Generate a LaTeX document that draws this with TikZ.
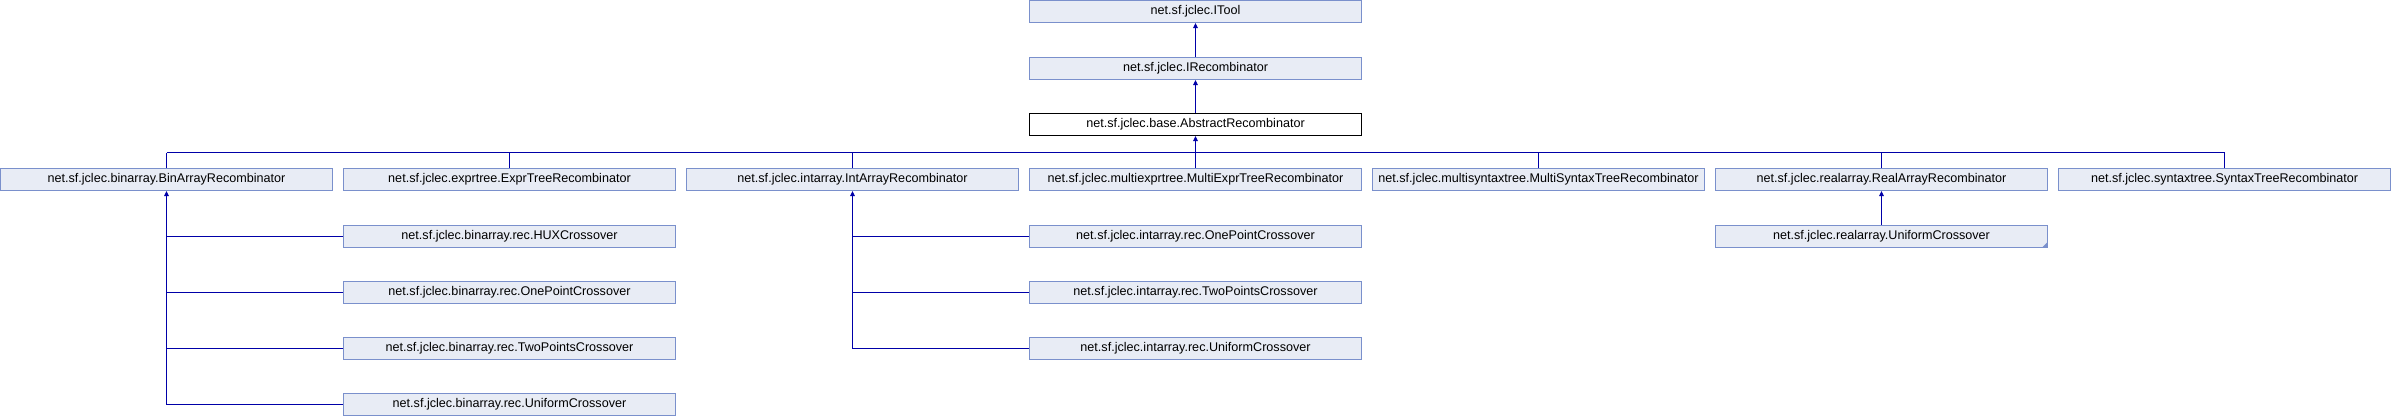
\documentclass[tikz,border=0pt]{standalone}
\usepackage{fontspec}
\setmainfont{Liberation Sans}
\usetikzlibrary{arrows.meta}
\definecolor{boxfill}{HTML}{E8ECF5}
\definecolor{boxdraw}{HTML}{7A90CC}
\definecolor{edgecol}{HTML}{0000A8}
\begin{document}
\begin{tikzpicture}[x=1pt,y=-1pt,
  cls/.style={draw=boxdraw,fill=boxfill,line width=1pt,minimum width=332pt,minimum height=22pt,inner sep=0pt,font=\fontsize{12.6}{14}\selectfont},
  mainbox/.style={cls,draw=black,fill=white},
  line/.style={draw=edgecol,line width=1pt},
  edge/.style={line,-{Triangle[length=5pt,width=4.5pt]}}]
\useasboundingbox (0,0) rectangle (2391,416);
\coordinate (bus) at (0,152.5);
% top chain
\node[cls] (itool) at (1195.5,11.5) {net.sf.jclec.ITool};
\node[cls] (irec) at (1195.5,68.5) {net.sf.jclec.IRecombinator};
\node[mainbox] (abs) at (1195.5,124.5) {net.sf.jclec.base.AbstractRecombinator};
% row 3
\node[cls] (bin) at (166.5,179.5) {net.sf.jclec.binarray.BinArrayRecombinator};
\node[cls] (expr) at (509.5,179.5) {net.sf.jclec.exprtree.ExprTreeRecombinator};
\node[cls] (int) at (852.5,179.5) {net.sf.jclec.intarray.IntArrayRecombinator};
\node[cls] (mexpr) at (1195.5,179.5) {net.sf.jclec.multiexprtree.MultiExprTreeRecombinator};
\node[cls] (msyn) at (1538.5,179.5) {net.sf.jclec.multisyntaxtree.MultiSyntaxTreeRecombinator};
\node[cls] (real) at (1881.5,179.5) {net.sf.jclec.realarray.RealArrayRecombinator};
\node[cls] (syn) at (2224.5,179.5) {net.sf.jclec.syntaxtree.SyntaxTreeRecombinator};
% binarray children
\node[cls] (bhux) at (509.5,236.5) {net.sf.jclec.binarray.rec.HUXCrossover};
\node[cls] (bone) at (509.5,292.5) {net.sf.jclec.binarray.rec.OnePointCrossover};
\node[cls] (btwo) at (509.5,348.5) {net.sf.jclec.binarray.rec.TwoPointsCrossover};
\node[cls] (buni) at (509.5,404.5) {net.sf.jclec.binarray.rec.UniformCrossover};
% intarray children
\node[cls] (ione) at (1195.5,236.5) {net.sf.jclec.intarray.rec.OnePointCrossover};
\node[cls] (itwo) at (1195.5,292.5) {net.sf.jclec.intarray.rec.TwoPointsCrossover};
\node[cls] (iuni) at (1195.5,348.5) {net.sf.jclec.intarray.rec.UniformCrossover};
% realarray child
\node[cls] (runi) at (1881.5,236.5) {net.sf.jclec.realarray.UniformCrossover};
\fill[boxdraw] ([xshift=-6pt,yshift=0.5pt]runi.south east) -- ([xshift=-0.5pt,yshift=0.5pt]runi.south east) -- ([xshift=-0.5pt,yshift=6pt]runi.south east) -- cycle;
% edges
\draw[edge] (irec) -- (itool);
\draw[edge] (abs) -- (irec);
\draw[edge] (abs.south |- bus) -- (abs.south);
\draw[line] (bin.north |- bus) -- (syn.north |- bus);
\foreach \c in {bin,expr,int,mexpr,msyn,real,syn}
  \draw[line] (\c.north) -- (\c.north |- bus);
\draw[edge] (buni.west) -| (bin.south);
\foreach \c in {bhux,bone,btwo}
  \draw[line] (\c.west) -- (\c.west -| bin.south);
\draw[edge] (iuni.west) -| (int.south);
\foreach \c in {ione,itwo}
  \draw[line] (\c.west) -- (\c.west -| int.south);
\draw[edge] (runi) -- (real);
\end{tikzpicture}
\end{document}
